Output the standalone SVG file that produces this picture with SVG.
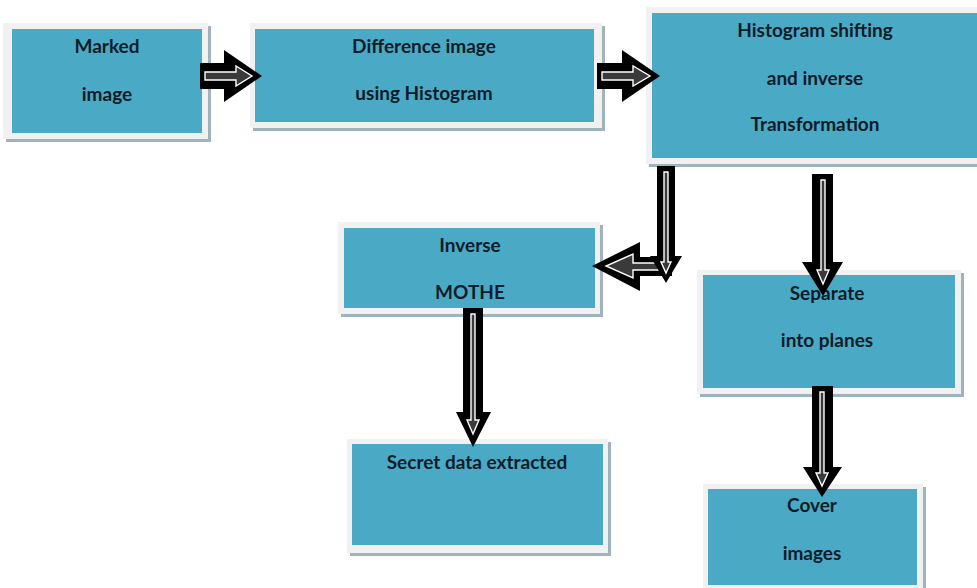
<svg xmlns="http://www.w3.org/2000/svg" width="977" height="588" viewBox="0 0 977 588">
<style>
.sh{fill:#9fb3bb}
.bd{fill:#f1f1f1}
.tl{fill:#4aaac5}
.tx{font-family:Lato,"Liberation Sans",sans-serif;font-weight:bold;font-size:19px;fill:#0f1c28;text-anchor:middle}
.ao{fill:#000}
.ai{fill:#3a3a3a;stroke:#fff;stroke-width:1.4;stroke-linejoin:miter}
</style>
<rect width="977" height="588" fill="#fff"/>
<g id="marked">
<rect class="sh" x="6" y="26" width="205" height="116"/>
<rect class="bd" x="3" y="23" width="205" height="116"/>
<rect class="tl" x="12" y="29" width="190" height="104"/>
<text class="tx" x="107" y="53">Marked</text>
<text class="tx" x="107" y="101">image</text>
</g>
<g id="difference">
<rect class="sh" x="253" y="26" width="352" height="105"/>
<rect class="bd" x="250" y="23" width="352" height="105"/>
<rect class="tl" x="255" y="29" width="339" height="93"/>
<text class="tx" x="424" y="53">Difference image</text>
<text class="tx" x="424" y="100">using Histogram</text>
</g>
<g id="shifting">
<rect class="sh" x="649" y="10" width="331" height="157"/>
<rect class="bd" x="646" y="7" width="331" height="157"/>
<rect class="tl" x="652" y="13" width="325" height="145"/>
<text class="tx" x="815" y="37">Histogram shifting</text>
<text class="tx" x="815" y="85">and inverse</text>
<text class="tx" x="815" y="131">Transformation</text>
</g>
<g id="inverse">
<rect class="sh" x="341" y="225" width="262" height="92"/>
<rect class="bd" x="338" y="222" width="262" height="92"/>
<rect class="tl" x="344" y="228" width="251" height="80"/>
<text class="tx" x="470" y="252">Inverse</text>
<text class="tx" x="470" y="299">MOTHE</text>
</g>
<g id="secret">
<rect class="sh" x="350" y="442" width="261" height="114"/>
<rect class="bd" x="347" y="439" width="261" height="114"/>
<rect class="tl" x="352" y="444" width="251" height="101"/>
<text class="tx" x="477" y="469">Secret data extracted</text>
</g>
<g id="separate">
<rect class="sh" x="700" y="273" width="264" height="124"/>
<rect class="bd" x="697" y="270" width="264" height="124"/>
<rect class="tl" x="703" y="275" width="252" height="113"/>
<text class="tx" x="827" y="300">Separate</text>
<text class="tx" x="827" y="347">into planes</text>
</g>
<g id="cover">
<rect class="sh" x="706" y="487" width="220" height="106"/>
<rect class="bd" x="703" y="484" width="220" height="106"/>
<rect class="tl" x="708" y="489" width="209" height="96"/>
<text class="tx" x="812" y="512">Cover</text>
<text class="tx" x="812" y="560">images</text>
</g>
<g id="connectors">
<polygon class="ao" points="200,63 224,63 224,50 262,76 224,102 224,89 200,89"/>
<polygon class="ai" points="205,72 236,72 236,66 252,76 236,86 236,80 205,80"/>
<polygon class="ao" points="597,63 622,63 622,50 660,76 622,102 622,89 597,89"/>
<polygon class="ai" points="602,72 633,72 633,66 650,76 633,86 633,80 602,80"/>
<polygon class="ao" points="672,257 672,276 640,276 640,291 592,266 640,242 640,257"/>
<polygon class="ai" points="665,263 665,270 633,270 633,278 606,266 633,254 633,263"/>
<polygon class="ao" points="657,166 675,166 675,256 682,256 666,283 650,256 657,256"/>
<polygon class="ai" points="664,172 668,172 668,262 671,262 666,273 661,262 664,262"/>
<polygon class="ao" points="812,174 833,174 833,262 843,262 823,296 802,262 812,262"/>
<polygon class="ai" points="821,180 825,180 825,270 829,270 823,284 817,270 821,270"/>
<polygon class="ao" points="463,308 483,308 483,412 491,412 473,447 456,412 463,412"/>
<polygon class="ai" points="471,314 475,314 475,420 479,420 473,434 467,420 471,420"/>
<polygon class="ao" points="812,386 833,386 833,467 842,467 822,497 803,467 812,467"/>
<polygon class="ai" points="820,392 824,392 824,473 828,473 822,486 816,473 820,473"/>
</g>
</svg>
